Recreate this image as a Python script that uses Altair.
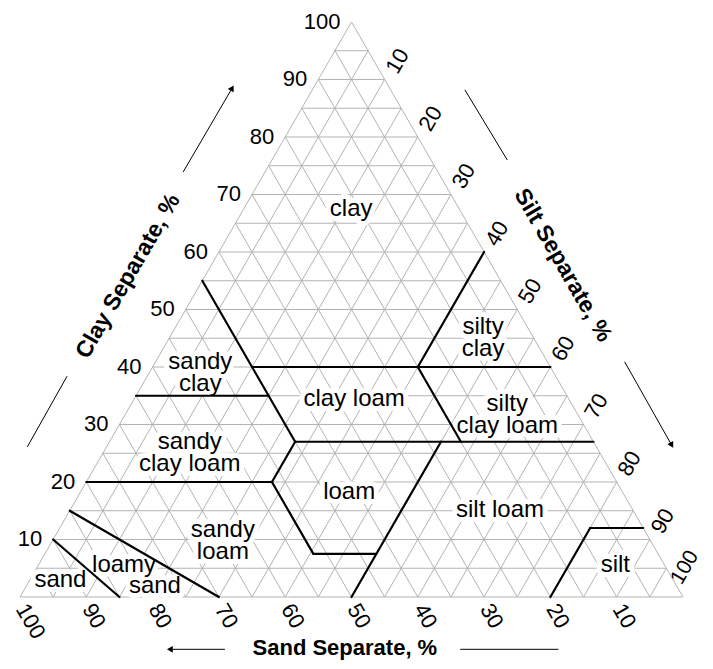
import altair as alt
import pandas as pd

FONT = "Liberation Sans"

# ---- axis ticks and grid (percent) ----
tick_values = [10, 20, 30, 40, 50, 60, 70, 80, 90, 100]
grid_values = [0, 5, 10, 15, 20, 25, 30, 35, 40, 45, 50, 55, 60, 65, 70, 75, 80, 85, 90, 95]

# ---- texture class boundaries: segments given as (silt %, clay %) start -> end ----
seg_silt_a = [0, 0, 15, 28, 0, 28, 28, 40.5, 40, 40, 50, 0, 0, 80, 80]
seg_clay_a = [55, 35, 40, 27, 20, 27, 20, 7.5, 40, 40, 27, 15, 10, 12, 12]
seg_silt_b = [28, 20, 60, 73, 28, 28, 40.5, 50, 40, 53, 50, 30, 15, 88, 80]
seg_clay_b = [27, 35, 40, 27, 20, 20, 7.5, 7.5, 60, 27, 0, 0, 0, 12, 0]

# ---- texture class labels: (silt %, clay %) of label centre ----
class_names = ["clay", "sandy\nclay", "silty\nclay", "clay loam", "silty\nclay loam",
               "sandy\nclay loam", "loam", "sandy\nloam", "silt loam", "loamy", "sand",
               "sand", "silt"]
class_silt = [16.2, 6.8, 46.4, 33.2, 56.7, 12.1, 40.5, 24.8, 64.8, 12.9, 19.4, 4.6, 87.0]
class_clay = [67.5, 40.8, 46.9, 34.4, 33.6, 27.0, 18.3, 11.6, 15.2, 5.6, 1.9, 3.0, 5.6]

# ---- axis titles (plot coordinates: x = silt + clay/2, y = clay) ----
title_text = ["Sand Separate, %", "Clay Separate, %", "Silt Separate, %"]
title_x = [49.0, 16.3, 81.9]
title_y = [-8.9, 55.8, 57.7]
title_angle = [0, 300, 60]
title_size = [22, 23, 23]

# decorative guide lines beside titles (x1, y1, x2, y2) ; arrows end at (x2, y2)
guide_x1 = [30.9, 66.4, 24.6, 1.1, 67.1, 91.2]
guide_y1 = [-9.1, -9.1, 73.9, 26.1, 88.2, 40.9]
guide_x2 = [22.6, 81.2, 32.0, 7.1, 73.5, 98.3]
guide_y2 = [-9.1, -9.1, 88.5, 38.4, 76.0, 26.4]
arrow_idx = [0, 2, 5]
arrow_angle = [270, 30, 150]


def px(silt, clay):
    return silt + clay / 2.0


# grid table
grid_rows = []
for v in grid_values:
    grid_rows.append(dict(x=v / 2, y=v, x2=100 - v / 2, y2=v))          # clay = v
    grid_rows.append(dict(x=v, y=0, x2=50 + v / 2, y2=100 - v))         # silt = v
    grid_rows.append(dict(x=100 - v, y=0, x2=(100 - v) / 2, y2=100 - v))  # sand = v
grid_df = pd.DataFrame(grid_rows)

bnd_df = pd.DataFrame({
    "x": [px(s, c) for s, c in zip(seg_silt_a, seg_clay_a)],
    "y": seg_clay_a,
    "x2": [px(s, c) for s, c in zip(seg_silt_b, seg_clay_b)],
    "y2": seg_clay_b,
})

lab_df = pd.DataFrame({
    "label": class_names,
    "x": [px(s, c) for s, c in zip(class_silt, class_clay)],
    "y": class_clay,
})

clay_df = pd.DataFrame({"t": [str(v) for v in tick_values],
                        "x": [v / 2 for v in tick_values], "y": tick_values})
silt_df = pd.DataFrame({"t": [str(v) for v in tick_values], "v": tick_values,
                        "x": [50 + v / 2 for v in tick_values], "y": [100 - v for v in tick_values]})
sand_df = pd.DataFrame({"t": [str(v) for v in tick_values],
                        "x": [100 - v for v in tick_values], "y": [0] * len(tick_values)})

guide_df = pd.DataFrame({"x": guide_x1, "y": guide_y1, "x2": guide_x2, "y2": guide_y2})
arrow_df = pd.DataFrame({"x": [guide_x2[i] for i in arrow_idx],
                         "y": [guide_y2[i] for i in arrow_idx],
                         "a": arrow_angle})

xs = alt.Scale(domain=[-1.81, 103.32], nice=False, zero=False)
ys = alt.Scale(domain=[-11.13, 102.43], nice=False, zero=False)
X = alt.X("x:Q", scale=xs, axis=None)
Y = alt.Y("y:Q", scale=ys, axis=None)

grid = alt.Chart(grid_df).mark_rule(color="#b3b3b3", strokeWidth=1).encode(
    x=X, y=Y, x2="x2:Q", y2="y2:Q")

halo = alt.Chart(lab_df).mark_text(
    font=FONT, fontSize=24, lineBreak="\n", lineHeight=22, baseline="middle",
    align="center", color="white", stroke="white", strokeWidth=10, strokeJoin="round"
).encode(x=X, y=Y, text="label:N")

bnd = alt.Chart(bnd_df).mark_rule(color="black", strokeWidth=2.2, strokeCap="round").encode(
    x=X, y=Y, x2="x2:Q", y2="y2:Q")

labels = alt.Chart(lab_df).mark_text(
    font=FONT, fontSize=24, lineBreak="\n", lineHeight=22, baseline="middle",
    align="center", color="black"
).encode(x=X, y=Y, text="label:N")

clay_t = alt.Chart(clay_df).mark_text(
    font=FONT, fontSize=22, align="right", baseline="middle", dx=-11, color="black"
).encode(x=X, y=Y, text="t:N")
silt_t = alt.Chart(silt_df).transform_filter("datum.v < 100").mark_text(
    font=FONT, fontSize=22, align="left", baseline="middle", angle=300, dx=10, dy=2, color="black"
).encode(x=X, y=Y, text="t:N")
silt_t100 = alt.Chart(silt_df).transform_filter("datum.v >= 100").mark_text(
    font=FONT, fontSize=21, align="left", baseline="middle", angle=300, dx=9, dy=-13, color="black"
).encode(x=X, y=Y, text="t:N")
sand_t = alt.Chart(sand_df).mark_text(
    font=FONT, fontSize=22, align="left", baseline="middle", angle=60, dx=8, dy=3, color="black"
).encode(x=X, y=Y, text="t:N")

titles = [
    alt.Chart(pd.DataFrame({"t": [title_text[i]], "x": [title_x[i]], "y": [title_y[i]]})).mark_text(
        font=FONT, fontSize=title_size[i], fontWeight="bold", align="center", baseline="middle",
        angle=title_angle[i], color="black"
    ).encode(x=X, y=Y, text="t:N")
    for i in range(3)
]

guides = alt.Chart(guide_df).mark_rule(color="black", strokeWidth=1).encode(
    x=X, y=Y, x2="x2:Q", y2="y2:Q")
arrows = alt.Chart(arrow_df).mark_point(
    shape="triangle-up", filled=True, color="black", size=45, opacity=1
).encode(x=X, y=Y, angle=alt.Angle("a:Q", scale=None))

chart = alt.layer(grid, halo, bnd, labels, clay_t, silt_t, silt_t100, sand_t, *titles,
                  guides, arrows).properties(
    width=697, height=653,
    autosize=alt.AutoSizeParams(type="none"),
    padding=0,
).configure_view(stroke=None)

chart.save("out.html", embed_options={"renderer": "svg", "actions": False})
